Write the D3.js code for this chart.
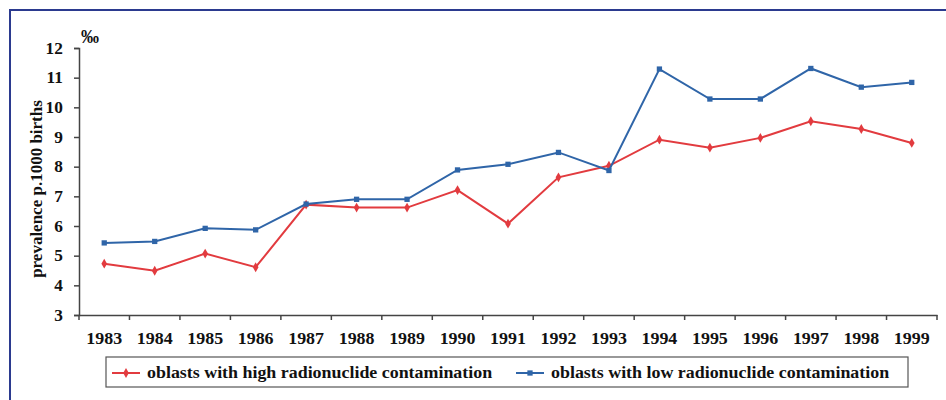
<!DOCTYPE html>
<html>
<head>
  <meta charset="utf-8">
  <script src="https://cdn.jsdelivr.net/npm/d3@7"></script>
  <style>
    body { margin: 0; background: #fff; }
    svg { display: block; }
    text { font-family: "Liberation Serif", "Times New Roman", serif; font-weight: bold; fill: #111; }
  </style>
</head>
<body>
  <div id="chart"></div>
  <script>
  // years on the x axis
  const years = ['1983', '1984', '1985', '1986', '1987', '1988', '1989', '1990', '1991',
    '1992', '1993', '1994', '1995', '1996', '1997', '1998', '1999'];

  // prevalence per 1000 births
  const highValues = [4.73, 4.49, 5.07, 4.61, 6.72, 6.62, 6.62, 7.21, 6.08,
    7.64, 8.03, 8.91, 8.64, 8.97, 9.53, 9.27, 8.80];
  const lowValues = [5.43, 5.48, 5.92, 5.87, 6.74, 6.90, 6.90, 7.89, 8.08,
    8.48, 7.87, 11.29, 10.28, 10.28, 11.31, 10.68, 10.84];

  const yTicks = [3, 4, 5, 6, 7, 8, 9, 10, 11, 12];

  const seriesNames = ['oblasts with high radionuclide contamination',
    'oblasts with low radionuclide contamination'];

  const W = 946, H = 400;
  const svg = d3.select('#chart').append('svg')
    .attr('width', W).attr('height', H);

  // outer frame (right and bottom edges fall outside the picture)
  svg.append('rect')
    .attr('x', 10).attr('y', 10)
    .attr('width', W).attr('height', H)
    .attr('fill', '#fff')
    .attr('stroke', '#2b3a8f')
    .attr('stroke-width', 2);

  const x = d3.scaleBand().domain(years).range([79, 937]).padding(0);
  const y = d3.scaleLinear().domain([3, 12]).range([315, 48]);

  // y axis
  const yAxis = svg.append('g')
    .attr('transform', 'translate(79,0)')
    .call(d3.axisLeft(y).tickValues(yTicks).tickSize(5).tickPadding(10))
    .attr('font-family', null);
  yAxis.select('.domain').attr('stroke', '#444').attr('stroke-width', 1.5);
  yAxis.selectAll('.tick line').attr('stroke', '#444').attr('stroke-width', 1.5);
  yAxis.selectAll('.tick text')
    .attr('font-size', 16).attr('fill', '#111')
    .attr('transform', 'scale(1.08,1)');

  // x axis: labels centered in bands, ticks on band edges
  const xAxis = svg.append('g')
    .attr('transform', 'translate(0,315)')
    .call(d3.axisBottom(x).tickSize(0).tickPadding(18))
    .attr('font-family', null);
  xAxis.select('.domain').attr('stroke', '#444').attr('stroke-width', 1.5);
  xAxis.selectAll('.tick text')
    .attr('font-size', 16).attr('fill', '#111')
    .attr('transform', 'scale(1.12,1)');
  xAxis.selectAll('.edge')
    .data(years.map(d => x(d)).concat([x.range()[1]]))
    .join('line')
    .attr('class', 'edge')
    .attr('x1', d => d).attr('x2', d => d)
    .attr('y1', 0).attr('y2', 5)
    .attr('stroke', '#444').attr('stroke-width', 1.5);

  // axis titles
  svg.append('text')
    .attr('transform', 'translate(42,189) rotate(-90)')
    .attr('text-anchor', 'middle')
    .attr('font-size', 17)
    .text('prevalence p.1000 births');
  svg.append('text')
    .attr('x', 81).attr('y', 43)
    .attr('font-size', 18)
    .text('‰');

  const cx = d => x(d) + x.bandwidth() / 2;
  const line = d3.line().x((d, i) => cx(years[i])).y(d => y(d));

  const series = [
    { name: seriesNames[0], values: highValues, color: '#e23b3f', shape: d3.symbolDiamond },
    { name: seriesNames[1], values: lowValues, color: '#2f65a8', shape: d3.symbolSquare }
  ];

  series.forEach(s => {
    svg.append('path')
      .attr('d', line(s.values))
      .attr('fill', 'none')
      .attr('stroke', s.color)
      .attr('stroke-width', 2);
    svg.selectAll(null)
      .data(s.values)
      .join('path')
      .attr('transform', (d, i) => `translate(${cx(years[i])},${y(d)})`)
      .attr('d', d3.symbol().type(s.shape).size(28))
      .attr('fill', s.color);
  });

  // legend
  svg.append('rect')
    .attr('x', 106).attr('y', 357)
    .attr('width', 802).attr('height', 30)
    .attr('fill', '#fff')
    .attr('stroke', '#555').attr('stroke-width', 1.2);

  const legendX = [112, 516];
  series.forEach((s, i) => {
    const g = svg.append('g').attr('transform', `translate(${legendX[i]},373)`);
    g.append('line').attr('x1', 0).attr('x2', 28)
      .attr('stroke', s.color).attr('stroke-width', 2);
    g.append('path')
      .attr('transform', 'translate(14,0)')
      .attr('d', d3.symbol().type(s.shape).size(28))
      .attr('fill', s.color);
    g.append('text')
      .attr('transform', 'translate(35,5) scale(1.12,1)')
      .attr('font-size', 16)
      .text(s.name);
  });
  </script>
</body>
</html>
